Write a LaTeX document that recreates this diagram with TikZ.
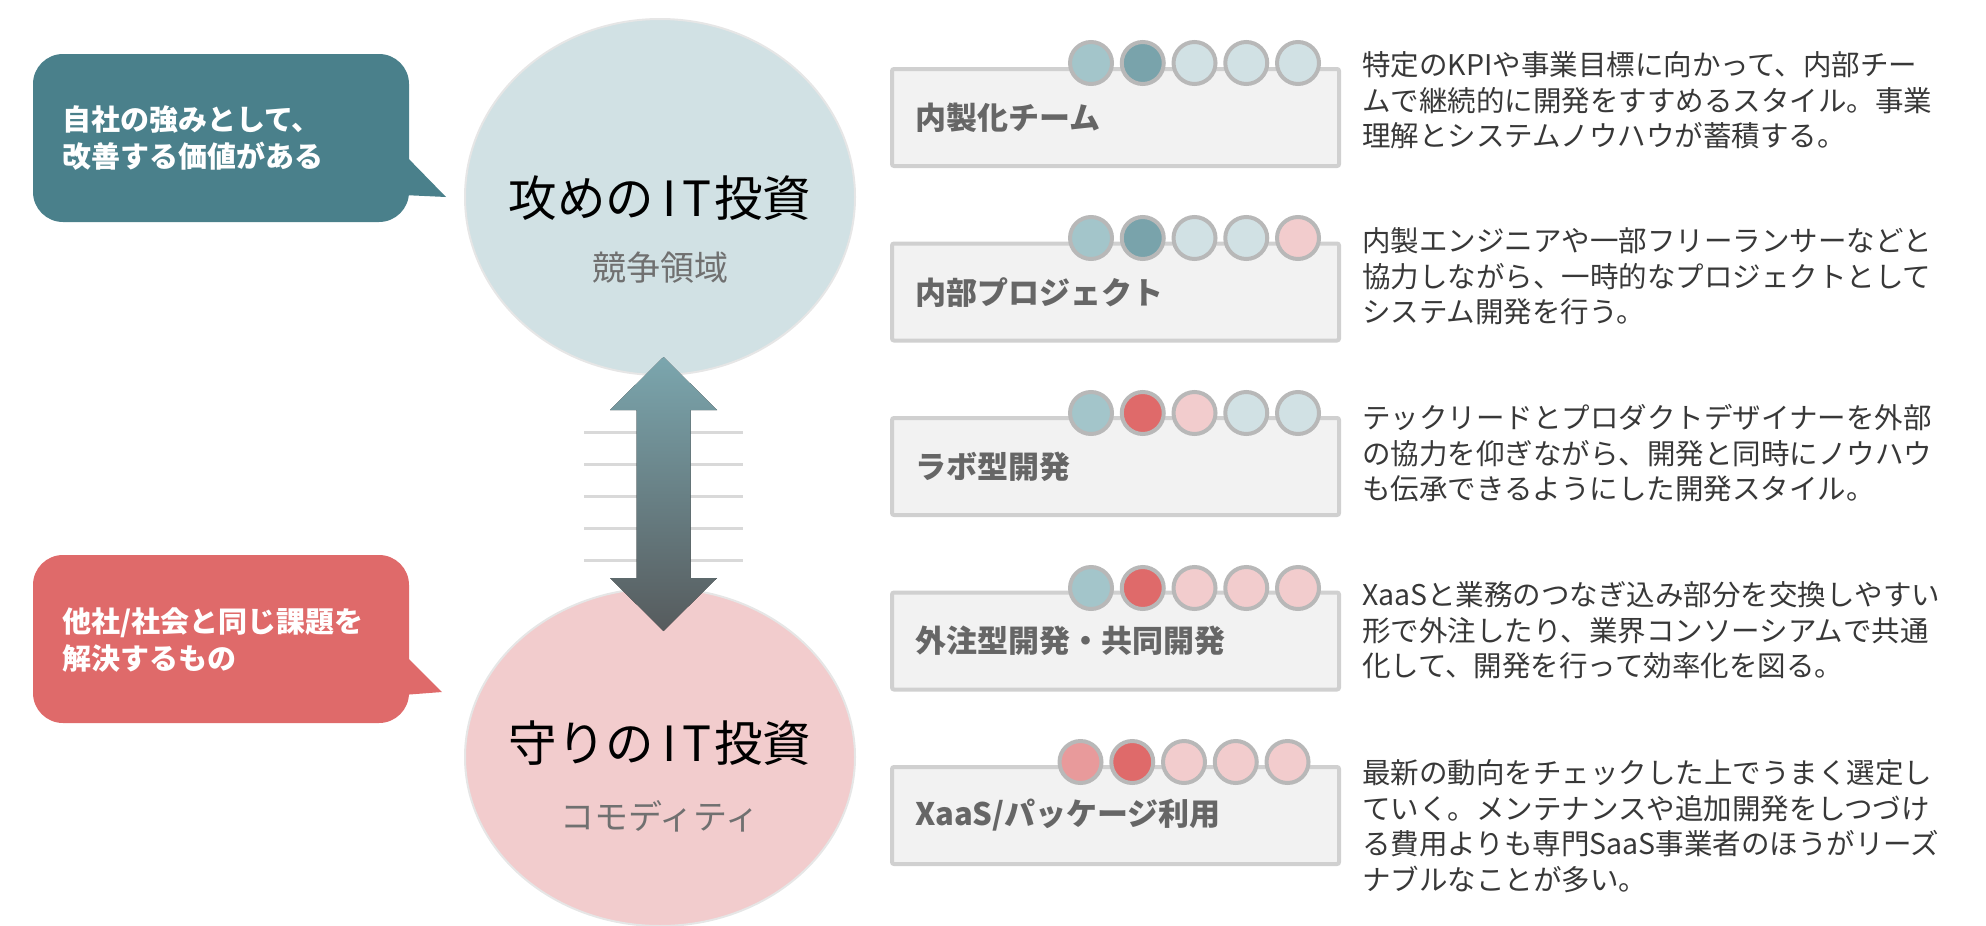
\documentclass[tikz,border=0pt]{standalone}
\usepackage{fontspec}
\setmainfont{Noto Sans CJK JP}
\usetikzlibrary{shapes.geometric}
\definecolor{bubteal}{HTML}{4A808B}
\definecolor{bubred}{HTML}{DF6A6A}
\definecolor{zoneteal}{HTML}{D1E1E4}
\definecolor{zonepink}{HTML}{F2CCCD}
\definecolor{zoneline}{HTML}{E6E6E6}
\definecolor{subgray}{HTML}{707070}
\definecolor{midteal}{HTML}{A3C5CA}
\definecolor{darkteal}{HTML}{79A3AB}
\definecolor{paleteal}{HTML}{D1E1E4}
\definecolor{palepink}{HTML}{F2CCCD}
\definecolor{midpink}{HTML}{E89A9B}
\definecolor{redfill}{HTML}{DF6A6A}
\definecolor{dotline}{HTML}{B8B8B8}
\definecolor{cardfill}{HTML}{F2F2F2}
\definecolor{cardline}{HTML}{D0D0D0}
\definecolor{cardtext}{HTML}{666666}
\definecolor{desctext}{HTML}{383838}
\definecolor{guidegray}{HTML}{D9D9D9}
\definecolor{arrowtop}{HTML}{7BA6AE}
\definecolor{arrowbot}{HTML}{565B5D}
\newcommand{\itword}{\kern0.16em I\kern0.12em T\kern0.06em}
\begin{document}
\begin{tikzpicture}[x=1pt,y=-1pt,
  bubble/.style={rectangle, rounded corners=30pt, minimum width=376pt, minimum height=168pt, inner sep=0pt},
  bubtext/.style={anchor=west, align=left, text=white, font=\fontsize{29}{37}\selectfont\bfseries, inner sep=0pt},
  zone/.style={ellipse, minimum width=390pt, inner sep=0pt, draw=zoneline, line width=2pt},
  zonetitle/.style={font=\fontsize{48.5}{56}\selectfont, text=black, inner sep=0pt},
  zonesub/.style={font=\fontsize{34}{40}\selectfont, text=subgray, inner sep=0pt},
  card/.style={rectangle, fill=cardfill, draw=cardline, line width=4pt, minimum width=447pt, minimum height=97pt, inner sep=0pt, rounded corners=2pt},
  cardtitle/.style={anchor=west, font=\fontsize{31}{36}\selectfont\bfseries, text=cardtext, inner sep=0pt},
  dot/.style={circle, draw=dotline, line width=4pt, minimum size=42pt, inner sep=0pt},
  desc/.style={anchor=west, align=left, font=\fontsize{28.5}{35.5}\selectfont, text=desctext, inner sep=0pt},
  guide/.style={draw=guidegray, line width=3pt}
]
\path[use as bounding box] (0,0) rectangle (1986,926);

% zones
\node[zone, fill=zoneteal, minimum height=356pt] (atk) at (660,197) {};
\node[zonetitle] (atkt) at (660,198) {攻めの\itword 投資};
\node[zonesub] (atks) at (660,268) {競争領域};

\node[zone, fill=zonepink, minimum height=338pt] (def) at (660,757) {};
\node[zonetitle] (deft) at (660,743) {守りの\itword 投資};
\node[zonesub] (defs) at (660,816) {コモディティ};

% guide lines
\foreach \yy [count=\k] in {432,464,496,528,560}
  \draw[guide] (584,\yy) coordinate (gl\k) -- (743,\yy) coordinate (gr\k);

% double arrow between zones
\coordinate (au) at (663.5,357);
\coordinate (ad) at (663.5,631);
\fill[top color=arrowtop, bottom color=arrowbot]
  (au) -- ++(53.5,53) -- ++(-26.5,0) -- ++(0,168) -- ++(26.5,0) -- (ad)
  -- ++(-53.5,-53) -- ++(26.5,0) -- ++(0,-168) -- ++(-26.5,0) -- cycle;

% bubbles
\node[bubble, fill=bubteal] (b1) at (221,138) {};
\fill[bubteal] (403,153) coordinate (b1a) -- (446,197) coordinate (b1tip) -- (403,195) coordinate (b1b) -- cycle;
\node[bubtext] (b1t) at (62,138.5) {自社の強みとして、\\改善する価値がある};

\node[bubble, fill=bubred] (b2) at (221,639) {};
\fill[bubred] (403,653) coordinate (b2a) -- (442,692) coordinate (b2tip) -- (403,695) coordinate (b2b) -- cycle;
\node[bubtext] (b2t) at (62,640) {他社/社会と同じ課題を\\解決するもの};

% cards
\node[card] (c1) at (1115.5,117.5) {};
\node[card] (c2) at (1115.5,292) {};
\node[card] (c3) at (1115.5,466.5) {};
\node[card] (c4) at (1115.5,641) {};
\node[card] (c5) at (1115.5,815.5) {};

\node[cardtitle] (c1t) at (915,118) {内製化チーム};
\node[cardtitle] (c2t) at (915,293) {内部プロジェクト};
\node[cardtitle] (c3t) at (915,467) {ラボ型開発};
\node[cardtitle] (c4t) at (915,641) {外注型開発・共同開発};
\node[cardtitle] (c5t) at (915,815) {XaaS/パッケージ利用};

% dots
\foreach \col [count=\i] in {midteal,darkteal,paleteal,paleteal,paleteal}
  \node[dot, fill=\col] (d1-\i) at ({1091+51.75*(\i-1)},63) {};
\foreach \col [count=\i] in {midteal,darkteal,paleteal,paleteal,palepink}
  \node[dot, fill=\col] (d2-\i) at ({1091+51.75*(\i-1)},238) {};
\foreach \col [count=\i] in {midteal,redfill,palepink,paleteal,paleteal}
  \node[dot, fill=\col] (d3-\i) at ({1091+51.75*(\i-1)},413) {};
\foreach \col [count=\i] in {midteal,redfill,palepink,palepink,palepink}
  \node[dot, fill=\col] (d4-\i) at ({1091+51.75*(\i-1)},588) {};
\foreach \col [count=\i] in {midpink,redfill,palepink,palepink,palepink}
  \node[dot, fill=\col] (d5-\i) at ({1080.5+51.75*(\i-1)},762) {};

% descriptions
\node[desc] (t1) at (1362,100.5) {特定のKPIや事業目標に向かって、内部チー\\ムで継続的に開発をすすめるスタイル。事業\\理解とシステムノウハウが蓄積する。};
\node[desc] (t2) at (1362,276.5) {内製エンジニアや一部フリーランサーなどと\\協力しながら、一時的なプロジェクトとして\\システム開発を行う。};
\node[desc] (t3) at (1362,453.5) {テックリードとプロダクトデザイナーを外部\\の協力を仰ぎながら、開発と同時にノウハウ\\も伝承できるようにした開発スタイル。};
\node[desc] (t4) at (1362,630.5) {XaaSと業務のつなぎ込み部分を交換しやすい\\形で外注したり、業界コンソーシアムで共通\\化して、開発を行って効率化を図る。};
\node[desc] (t5) at (1362,826) {最新の動向をチェックした上でうまく選定し\\ていく。メンテナンスや追加開発をしつづけ\\る費用よりも専門SaaS事業者のほうがリーズ\\ナブルなことが多い。};
\end{tikzpicture}
\end{document}
